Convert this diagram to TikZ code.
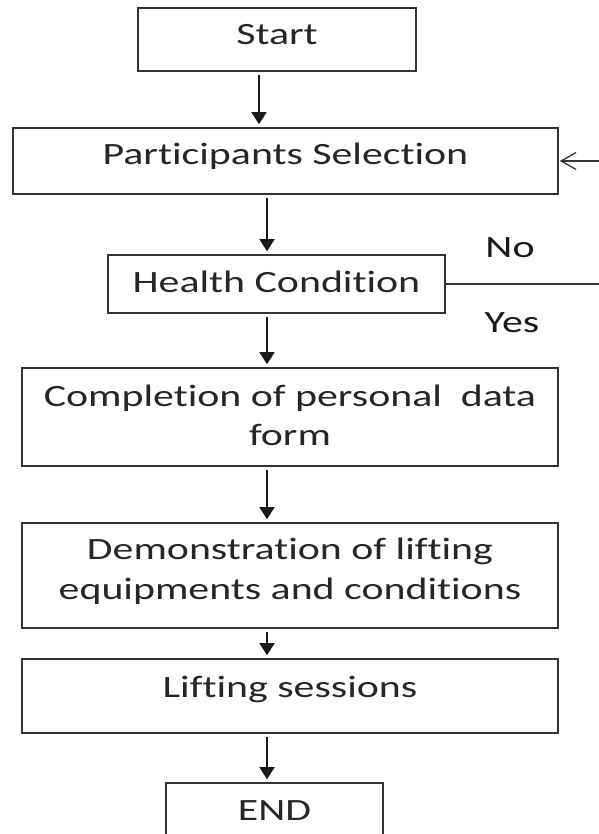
\documentclass[tikz,border=0pt]{standalone}
\usepackage{fontspec}
\setmainfont{Carlito}[FakeStretch=1.35, Ligatures=NoCommon]
\usetikzlibrary{arrows.meta}

\tikzset{
  stage/.style={draw=black!80, line width=1.6pt, inner sep=0pt, text=black!85,
    font=\fontsize{31}{39.5}\selectfont, text height=20pt, text depth=10pt},
  flow/.style={draw=black!90, line width=1.6pt, shorten <=3pt, shorten >=3pt,
    -{Triangle[width=15pt,length=12pt]}},
  back/.style={draw=black!80, line width=1.3pt},
  answer/.style={inner sep=0pt, text=black!90, font=\fontsize{31}{37}\selectfont,
    text height=20pt, text depth=0pt}
}

\begin{document}
\begin{tikzpicture}[x=1pt,y=-1pt]

            \useasboundingbox[fill=white] (0,0) rectangle (598,834);

            % boxes
            \node[stage, minimum width=278pt, minimum height=63pt, text depth=9pt] (start) at (277,39.5) {Start};
            \node[stage, minimum width=545pt, minimum height=66pt, text depth=13pt] (sel) at (285.5,161) {Participants Selection};
            \node[stage, minimum width=337pt, minimum height=58pt, text depth=4pt] (health) at (276.5,284) {Health Condition};
            \node[stage, minimum width=536pt, minimum height=98pt, align=center, text height=59.5pt, text depth=2pt] (form) at (290,417) {Completion of personal\ \ data\\form};
            \node[stage, minimum width=536pt, minimum height=105pt, align=center, text height=60pt, text depth=12pt,
                  font=\fontsize{31}{40}\selectfont] (demo) at (290,575.5) {Demonstration of lifting\\equipments and conditions};
            \node[stage, minimum width=536pt, minimum height=74pt, text depth=17pt] (sess) at (290,696) {Lifting sessions};
            \node[stage, minimum width=217pt, minimum height=63pt, text depth=9pt] (end) at (274.5,814.5) {END};

            % arrows down the chart
            \coordinate (axisA) at (259,0);
            \coordinate (axisB) at (267,0);

            \draw[flow] (start.south -| axisA) -- (sel.north -| axisA);
            \draw[flow] (sel.south -| axisB) -- (health.north -| axisB);
            \draw[flow] (health.south -| axisB) -- (form.north -| axisB);
            \draw[flow] (form.south -| axisB) -- (demo.north -| axisB);
            \draw[flow] (demo.south -| axisB) -- (sess.north -| axisB);
            \draw[flow] (sess.south -| axisB) -- (end.north -| axisB);

            % way back for No
            \coordinate (loop) at (606,0);
            \draw[back, -{Straight Barb[length=15pt,width=17pt]}, shorten >=1pt]
                (health.east) -- (health.east -| loop) |- (sel.east);

            \node[answer] (lblNo) at (510,247.5) {No};
            \node[answer] (lblYes) at (512,322) {Yes};

        \end{tikzpicture}
\end{document}
